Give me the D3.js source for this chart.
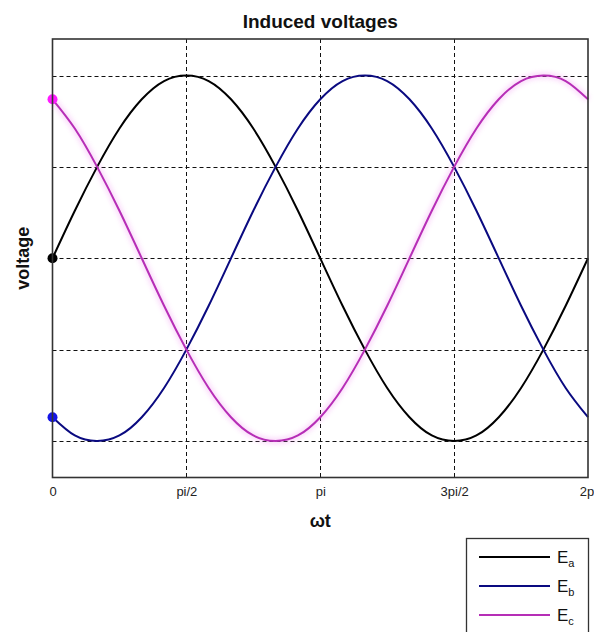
<!DOCTYPE html>
<html>
<head>
<meta charset="utf-8">
<script src="https://cdn.jsdelivr.net/npm/d3@7"></script>
<style>
  html, body { margin: 0; padding: 0; background: #fff; }
  svg { display: block; font-family: "Liberation Sans", Arial, sans-serif; }
</style>
</head>
<body>
<svg id="chart" width="594" height="632"></svg>
<script>
// Phase angle of each sample, in degrees (0 .. 2pi)
const angleDeg = [0, 15, 30, 45, 60, 75, 90, 105, 120, 135, 150, 165, 180,
                  195, 210, 225, 240, 255, 270, 285, 300, 315, 330, 345, 360];

// Induced voltage per phase (per-unit)
const Ea = [0, 0.26, 0.5, 0.71, 0.87, 0.97, 1, 0.97, 0.87, 0.71, 0.5, 0.26, 0,
            -0.26, -0.5, -0.71, -0.87, -0.97, -1, -0.97, -0.87, -0.71, -0.5, -0.26, 0];
const Eb = [-0.87, -0.97, -1, -0.97, -0.87, -0.71, -0.5, -0.26, 0, 0.26, 0.5, 0.71, 0.87,
            0.97, 1, 0.97, 0.87, 0.71, 0.5, 0.26, 0, -0.26, -0.5, -0.71, -0.87];
const Ec = [0.87, 0.71, 0.5, 0.26, 0, -0.26, -0.5, -0.71, -0.87, -0.97, -1, -0.97, -0.87,
            -0.71, -0.5, -0.26, 0, 0.26, 0.5, 0.71, 0.87, 0.97, 1, 0.97, 0.87];

const seriesNames = ["a", "b", "c"];
const lineColors = ["#000000", "#0a0a80", "#b62eb6"];
const dotColors = ["#000000", "#1414e6", "#ff1aff"];

// Axis ticks
const xTickDeg = [0, 90, 180, 270, 360];
const xTickLabels = ["0", "pi/2", "pi", "3pi/2", "2pi"];
const yGrid = [-1, -0.5, 0, 0.5, 1];

const svg = d3.select("#chart");
const plot = { left: 52.5, right: 588, top: 39, bottom: 477.5 };

const x = d3.scaleLinear().domain([0, 360]).range([plot.left, plot.right]);
const y = d3.scaleLinear().domain([-1.2, 1.2]).range([plot.bottom, plot.top]);

// Dashed grid
const grid = svg.append("g").attr("stroke", "#111").attr("stroke-width", 1)
  .attr("stroke-dasharray", "4,3");
grid.selectAll("line.h").data(yGrid).join("line")
  .attr("x1", plot.left).attr("x2", plot.right)
  .attr("y1", d => Math.round(y(d)) + 0.5).attr("y2", d => Math.round(y(d)) + 0.5);
grid.selectAll("line.v").data(xTickDeg.slice(1, -1)).join("line")
  .attr("x1", d => Math.round(x(d)) + 0.5).attr("x2", d => Math.round(x(d)) + 0.5)
  .attr("y1", plot.top).attr("y2", plot.bottom);

// X axis tick labels (no tick marks); the last one runs off the page edge
const xAxis = d3.axisBottom(x).tickValues(xTickDeg)
  .tickFormat((d, i) => xTickLabels[i]).tickSize(0).tickPadding(9);
const gx = svg.append("g").attr("transform", `translate(0,${plot.bottom})`).call(xAxis);
gx.select(".domain").remove();
gx.selectAll("text").attr("font-size", 13).attr("fill", "#222")
  .attr("font-family", "Liberation Sans, Arial, sans-serif");

// Curves
const seriesData = [Ea, Eb, Ec].map(vals => angleDeg.map((a, i) => ({ a, v: vals[i] })));
const line = d3.line().x(d => x(d.a)).y(d => y(d.v)).curve(d3.curveNatural);

const defs = svg.append("defs");
defs.append("filter").attr("id", "haze").attr("x", "-5%").attr("y", "-10%")
  .attr("width", "110%").attr("height", "120%")
  .append("feGaussianBlur").attr("stdDeviation", 2.5);

// Soft pink halo around the Ec trace
svg.append("path").datum(seriesData[2])
  .attr("fill", "none").attr("stroke", "#f080f0").attr("stroke-width", 6)
  .attr("opacity", 0.3).attr("filter", "url(#haze)").attr("d", line);

seriesData.forEach((s, i) => {
  svg.append("path").datum(s)
    .attr("fill", "none").attr("stroke", lineColors[i]).attr("stroke-width", 2)
    .attr("stroke-linejoin", "round").attr("d", line);
});

// Starting points at wt = 0
svg.selectAll("circle.start").data(seriesData).join("circle")
  .attr("cx", d => x(d[0].a)).attr("cy", d => y(d[0].v)).attr("r", 5)
  .attr("fill", (d, i) => dotColors[i]);

// Plot frame
svg.append("rect")
  .attr("x", plot.left).attr("y", plot.top)
  .attr("width", plot.right - plot.left).attr("height", plot.bottom - plot.top)
  .attr("fill", "none").attr("stroke", "#333").attr("stroke-width", 1.6);

// Titles
svg.append("text").attr("x", (plot.left + plot.right) / 2).attr("y", 28)
  .attr("text-anchor", "middle").attr("font-weight", "bold").attr("font-size", 19)
  .attr("fill", "#111").text("Induced voltages");
svg.append("text").attr("x", (plot.left + plot.right) / 2).attr("y", 527)
  .attr("text-anchor", "middle").attr("font-weight", "bold").attr("font-size", 18)
  .attr("fill", "#111").text("ωt");
svg.append("text")
  .attr("transform", `translate(29,${y(0)}) rotate(-90)`)
  .attr("text-anchor", "middle").attr("font-weight", "bold").attr("font-size", 18)
  .attr("fill", "#111").text("voltage");

// Legend
const legend = svg.append("g").attr("transform", "translate(466,538)");
legend.append("rect").attr("x", 0.5).attr("y", 0.5).attr("width", 122).attr("height", 110)
  .attr("fill", "#fff").attr("stroke", "#333").attr("stroke-width", 1.3);
seriesNames.forEach((name, i) => {
  const ly = 19 + i * 29;
  legend.append("line").attr("x1", 13).attr("x2", 84).attr("y1", ly).attr("y2", ly)
    .attr("stroke", lineColors[i]).attr("stroke-width", 2);
  const t = legend.append("text").attr("x", 91).attr("y", ly + 6)
    .attr("font-size", 17).attr("fill", "#111");
  t.append("tspan").text("E");
  t.append("tspan").attr("font-size", 11).attr("dy", 4).text(name);
});
</script>
</body>
</html>
